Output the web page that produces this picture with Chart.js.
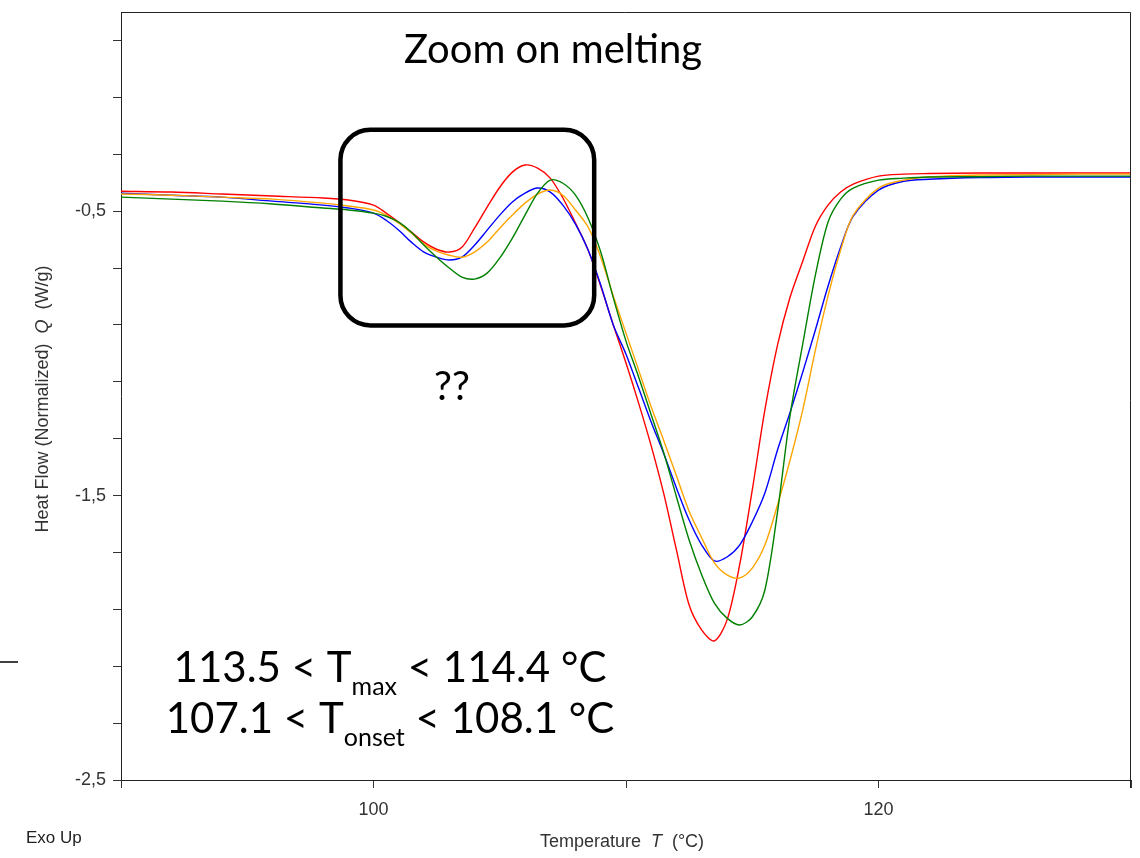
<!DOCTYPE html>
<html>
<head>
<meta charset="utf-8">
<title>Zoom on melting</title>
<script src="https://cdn.jsdelivr.net/npm/chart.js@4.4.0/dist/chart.umd.min.js"></script>
<style>
  html, body { margin: 0; padding: 0; background: #ffffff; }
  #wrap { width: 1140px; height: 858px; position: relative; }
</style>
</head>
<body>
<div id="wrap"><canvas id="meltingChart"></canvas></div>
<script>
// Temperature (°C) and normalized heat flow (W/g)
const temperatures = [90, 92, 94, 96, 98, 99, 100, 100.5, 101, 101.5, 102, 102.5, 103, 103.5, 104, 104.5, 105, 105.5, 106, 106.5, 107, 107.5, 108, 108.5, 109, 109.5, 110, 110.5, 111, 111.5, 112, 112.5, 113, 113.5, 114, 114.5, 115, 115.5, 116, 116.5, 117, 117.5, 118, 118.5, 119, 120, 121, 122, 124, 126, 128, 130];

const redFlow = [-0.430, -0.433, -0.440, -0.447, -0.454, -0.461,
    -0.479, -0.507, -0.539, -0.574, -0.609, -0.634, -0.644, -0.627, -0.560, -0.486, -0.416, -0.363, -0.338, -0.349,
    -0.384, -0.454, -0.542, -0.637, -0.764, -0.901, -1.034, -1.175, -1.326, -1.495, -1.692, -1.885, -1.973, -2.011,
    -1.938, -1.744, -1.481, -1.199, -0.971, -0.802, -0.676, -0.553, -0.479, -0.433, -0.405,
    -0.377, -0.370, -0.368, -0.366, -0.366, -0.366, -0.366];

const blueFlow = [-0.437, -0.444, -0.451, -0.465, -0.479, -0.489,
    -0.507, -0.532, -0.567, -0.609, -0.644, -0.662, -0.672, -0.662, -0.620, -0.567, -0.514, -0.468, -0.437, -0.419,
    -0.433, -0.479, -0.546, -0.637, -0.760, -0.901, -1.003, -1.122, -1.242, -1.354, -1.474, -1.586, -1.674, -1.730,
    -1.716, -1.674, -1.593, -1.491, -1.340, -1.207, -1.066, -0.918, -0.764, -0.627, -0.518,
    -0.426, -0.395, -0.388, -0.382, -0.380, -0.380, -0.380];

const orangeFlow = [-0.440, -0.444, -0.451, -0.458, -0.472, -0.482,
    -0.496, -0.514, -0.542, -0.577, -0.616, -0.641, -0.655, -0.662, -0.644, -0.609, -0.560, -0.514, -0.472, -0.440,
    -0.426, -0.444, -0.496, -0.556, -0.662, -0.799, -0.929, -1.059, -1.189, -1.308, -1.431, -1.555, -1.649, -1.737,
    -1.779, -1.790, -1.755, -1.674, -1.533, -1.375, -1.199, -0.989, -0.799, -0.637, -0.514,
    -0.419, -0.391, -0.380, -0.373, -0.372, -0.370, -0.370];

const greenFlow = [-0.451, -0.458, -0.465, -0.475, -0.489, -0.496,
    -0.507, -0.518, -0.539, -0.574, -0.620, -0.662, -0.700, -0.732, -0.739, -0.718, -0.665, -0.595, -0.514, -0.437,
    -0.391, -0.402, -0.444, -0.525, -0.644, -0.806, -0.957, -1.083, -1.217, -1.351, -1.505, -1.656, -1.779, -1.878,
    -1.931, -1.955, -1.927, -1.832, -1.558, -1.217, -0.967, -0.725, -0.539, -0.458, -0.419,
    -0.391, -0.384, -0.380, -0.379, -0.377, -0.377, -0.377];

const xTickValues = [90, 100, 110, 120, 130];
const xTickLabelled = [100, 120];
const yTickValues = [-2.5, -2.3, -2.1, -1.9, -1.7, -1.5, -1.3, -1.1, -0.9, -0.7, -0.5, -0.3, -0.1, 0.1];
const yTickLabelled = [-2.5, -1.5, -0.5];

const AXIS_FONT = "'Liberation Sans', Arial, sans-serif";
const SLIDE_FONT = "Lato, 'Open Sans', sans-serif";

function toPoints(values) {
    return temperatures.map((t, i) => ({ x: t, y: values[i] }));
}

function isIn(list, v) {
    return list.some(item => Math.abs(item - v) < 1e-6);
}

// draw a row of text pieces centred on cx
function drawRuns(ctx, runs, cx, baseline) {
    let total = 0;
    runs.forEach(r => {
        ctx.font = r.font;
        r.w = ctx.measureText(r.text).width;
        total += r.w;
    });
    let pos = cx - total / 2;
    runs.forEach(r => {
        ctx.font = r.font;
        ctx.fillText(r.text, pos, baseline + (r.dy || 0));
        pos += r.w;
    });
}

function roundedBox(ctx, x0, y0, x1, y1, r) {
    ctx.beginPath();
    ctx.moveTo(x0 + r, y0);
    ctx.arcTo(x1, y0, x1, y1, r);
    ctx.arcTo(x1, y1, x0, y1, r);
    ctx.arcTo(x0, y1, x0, y0, r);
    ctx.arcTo(x0, y0, x1, y0, r);
    ctx.closePath();
}

const slideAnnotations = {
    id: 'slideAnnotations',
    afterDraw(chart) {
        const { ctx, chartArea: a, scales: { x, y } } = chart;
        ctx.save();

        // top and right frame of the plot
        ctx.strokeStyle = '#222';
        ctx.lineWidth = 1;
        ctx.beginPath();
        ctx.moveTo(a.left, a.top + 0.5);
        ctx.lineTo(a.right - 0.5, a.top + 0.5);
        ctx.lineTo(a.right - 0.5, a.bottom + 8);
        ctx.stroke();

        // rounded box around the small pre-melting event
        ctx.strokeStyle = '#000';
        ctx.lineWidth = 4.5;
        roundedBox(ctx, x.getPixelForValue(98.69), y.getPixelForValue(-0.214),
            x.getPixelForValue(108.74), y.getPixelForValue(-0.902), 30);
        ctx.stroke();

        // stray slide line at the left edge
        ctx.lineWidth = 1.5;
        ctx.beginPath();
        ctx.moveTo(0, 662);
        ctx.lineTo(18, 662);
        ctx.stroke();

        // slide texts
        ctx.fillStyle = '#000';
        ctx.textBaseline = 'alphabetic';
        ctx.textAlign = 'left';
        drawRuns(ctx, [{ text: 'Zoom on melting', font: `40px ${SLIDE_FONT}` }], 553, 63);
        drawRuns(ctx, [{ text: '??', font: `40px ${SLIDE_FONT}` }], 452, 400);
        drawRuns(ctx, [
            { text: '113.5 < T', font: `42px ${SLIDE_FONT}` },
            { text: 'max', font: `25px ${SLIDE_FONT}`, dy: 13 },
            { text: ' < 114.4 °C', font: `42px ${SLIDE_FONT}` }
        ], 390, 682);
        drawRuns(ctx, [
            { text: '107.1 < T', font: `42px ${SLIDE_FONT}` },
            { text: 'onset', font: `25px ${SLIDE_FONT}`, dy: 13 },
            { text: ' < 108.1 °C', font: `42px ${SLIDE_FONT}` }
        ], 390, 733);

        // axis titles with italic symbols
        ctx.fillStyle = '#333';
        drawRuns(ctx, [
            { text: 'Temperature  ', font: `18px ${AXIS_FONT}` },
            { text: 'T', font: `italic 18px ${AXIS_FONT}` },
            { text: '  (°C)', font: `18px ${AXIS_FONT}` }
        ], 622, 847);

        ctx.save();
        ctx.translate(42, 399);
        ctx.rotate(-Math.PI / 2);
        drawRuns(ctx, [
            { text: 'Heat Flow (Normalized)  ', font: `18px ${AXIS_FONT}` },
            { text: 'Q', font: `italic 18px ${AXIS_FONT}` },
            { text: '  (W/g)', font: `18px ${AXIS_FONT}` }
        ], 0, 6);
        ctx.restore();

        ctx.font = `17px ${AXIS_FONT}`;
        ctx.fillStyle = '#222';
        ctx.fillText('Exo Up', 26, 843);

        ctx.restore();
    }
};

function initMeltingChart() {
    const canvas = document.getElementById('meltingChart');
    if (!canvas) {
        console.error('Canvas meltingChart not found');
        return null;
    }

    const series = [
        { label: 'green', data: greenFlow, color: '#008000' },
        { label: 'orange', data: orangeFlow, color: '#ffa500' },
        { label: 'blue', data: blueFlow, color: '#0000ff' },
        { label: 'red', data: redFlow, color: '#ff0000' }
    ];

    return new Chart(canvas.getContext('2d'), {
        type: 'line',
        data: {
            datasets: series.map(s => ({
                label: s.label,
                data: toPoints(s.data),
                borderColor: s.color,
                borderWidth: 1.4,
                pointRadius: 0,
                fill: false,
                tension: 0.3
            }))
        },
        options: {
            responsive: true,
            maintainAspectRatio: false,
            animation: false,
            layout: { padding: { top: 12, right: 9, left: 0, bottom: 0 } },
            plugins: {
                legend: { display: false },
                tooltip: { enabled: false }
            },
            scales: {
                x: {
                    type: 'linear',
                    min: 90,
                    max: 130,
                    afterBuildTicks: scale => { scale.ticks = xTickValues.map(v => ({ value: v })); },
                    afterFit: scale => {
                        scale.height = 78;
                        scale.paddingLeft = 0;
                        scale.paddingRight = 0;
                    },
                    grid: { drawOnChartArea: false, drawTicks: true, tickLength: 8, color: '#333' },
                    border: { display: true, color: '#222', width: 1 },
                    ticks: {
                        autoSkip: false,
                        maxRotation: 0,
                        padding: 11,
                        color: '#333',
                        font: { family: AXIS_FONT, size: 18 },
                        callback: value => isIn(xTickLabelled, value) ? String(value) : ''
                    }
                },
                y: {
                    type: 'linear',
                    min: -2.5,
                    max: 0.2,
                    afterBuildTicks: scale => { scale.ticks = yTickValues.map(v => ({ value: v })); },
                    afterFit: scale => {
                        scale.width = 121;
                        scale.paddingTop = 0;
                        scale.paddingBottom = 0;
                    },
                    grid: { drawOnChartArea: false, drawTicks: true, tickLength: 8, color: '#333' },
                    border: { display: true, color: '#222', width: 1 },
                    ticks: {
                        autoSkip: false,
                        padding: 7,
                        color: '#333',
                        font: { family: AXIS_FONT, size: 18 },
                        callback: value => isIn(yTickLabelled, value) ? String(value).replace('.', ',') : ''
                    }
                }
            }
        },
        plugins: [slideAnnotations]
    });
}

initMeltingChart();
</script>
</body>
</html>
